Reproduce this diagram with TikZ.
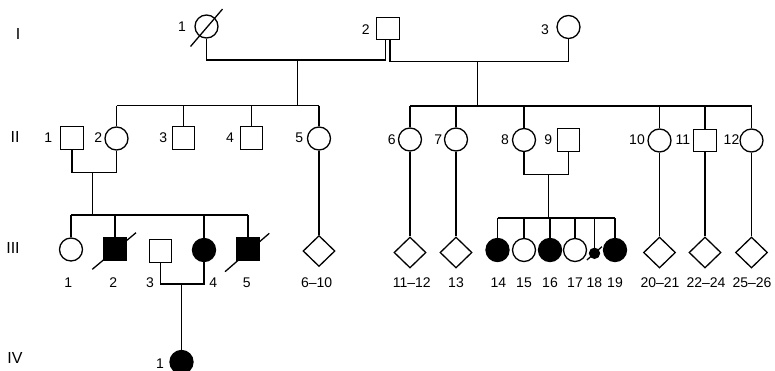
\documentclass[tikz,border=0pt]{standalone}
\usepackage{fontspec}
\setmainfont{Liberation Sans}
\usetikzlibrary{shapes.geometric,calc}
\begin{document}
\begin{tikzpicture}[x=1pt,y=-1pt,line width=1.3pt,
 fem/.style={circle,draw,minimum size=23pt,inner sep=0pt},
 mal/.style={rectangle,draw,minimum size=22.5pt,inner sep=0pt},
 unk/.style={diamond,draw,minimum width=32pt,minimum height=31pt,inner sep=0pt},
 aff/.style={fill=black},
 tiny/.style={circle,draw,fill=black,minimum size=10pt,inner sep=0pt},
 lab/.style={font=\fontsize{14}{14}\selectfont,inner sep=0pt},
 gen/.style={font=\fontsize{16}{16}\selectfont,inner sep=0pt}]
\useasboundingbox (0,0) rectangle (775,370);
% generation labels
\node[gen] (gI) at (18,34) {I};
\node[gen] (gII) at (15,137) {II};
\node[gen] (gIII) at (13,248) {III};
\node[gen] (gIV) at (15,358) {IV};
% generation I
\node[fem] (I1) at (206.5,26.5) {};
\node[mal] (I2) at (388,28.5) {};
\node[fem] (I3) at (568.5,27) {};
\node[lab] (lI1) at (182,27) {1};
\node[lab] (lI2) at (365.7,30) {2};
\node[lab] (lI3) at (545,30) {3};
\draw ($(I1)+(-16,20)$) -- ($(I1)+(16,-17.4)$);
\coordinate (a1) at (385.5,60);
\coordinate (a2) at (390,61.5);
\draw (I1.south) |- (a1) -- (a1 |- I2.south);
\draw (I3.south) |- (a2) -- (a2 |- I2.south);
\coordinate (d1) at (297.5,60);
\coordinate (s1) at (297.5,105.5);
\coordinate (d2) at (477.5,61.5);
\coordinate (s2) at (477.5,106);
\draw (d1) -- (s1);
\draw (d2) -- (s2);
% generation II
\node[mal] (II1) at (72,138) {};
\node[fem] (II2) at (116.5,138.5) {};
\node[mal] (II3) at (183.5,138) {};
\node[mal] (II4) at (251.5,138) {};
\node[fem] (II5) at (319,138.5) {};
\node[fem] (II6) at (410,139.5) {};
\node[fem] (II7) at (456,139.5) {};
\node[fem] (II8) at (524,140) {};
\node[mal] (II9) at (568.5,140) {};
\node[fem] (II10) at (659.5,140.5) {};
\node[mal] (II11) at (705,140.5) {};
\node[fem] (II12) at (751.5,140.5) {};
\node[lab] (lII1) at (48.3,138) {1};
\node[lab] (lII2) at (98.3,138) {2};
\node[lab] (lII3) at (163.3,138) {3};
\node[lab] (lII4) at (230,138) {4};
\node[lab] (lII5) at (299.3,138) {5};
\node[lab] (lII6) at (391.7,140) {6};
\node[lab] (lII7) at (438.3,140) {7};
\node[lab] (lII8) at (505,140) {8};
\node[lab] (lII9) at (548.3,140) {9};
\node[lab] (lII10) at (637,140) {10};
\node[lab] (lII11) at (683,140) {11};
\node[lab] (lII12) at (731.5,140) {12};
\draw (II2 |- s1) -- (II5 |- s1);
\foreach \n in {II2,II3,II4,II5} \draw (\n |- s1) -- (\n.north);
\draw (II6 |- s2) -- (II12 |- s2);
\foreach \n in {II6,II7,II8,II10,II11,II12} \draw (\n |- s2) -- (\n.north);
% generation III
\node[fem] (III1) at (71,249.5) {};
\node[mal,aff] (III2) at (115,249) {};
\node[mal] (III3) at (160.5,251) {};
\node[fem,aff] (III4) at (204,250) {};
\node[mal,aff] (III5) at (248,249) {};
\node[unk] (III6) at (319,251) {};
\node[unk] (D11) at (410,252.5) {};
\node[unk] (D13) at (456,252.5) {};
\node[fem,aff] (C14) at (497.5,250) {};
\node[fem] (C15) at (524,250) {};
\node[fem,aff] (C16) at (550,250) {};
\node[fem] (C17) at (575,250) {};
\node[tiny] (C18) at (594.5,253.3) {};
\node[fem,aff] (C19) at (615,250) {};
\node[unk] (D20) at (659.5,252.5) {};
\node[unk] (D22) at (705,252.5) {};
\node[unk] (D25) at (751.5,252.5) {};
\draw ($(III2)+(-22.7,20.3)$) -- ($(III2)+(21,-16.3)$);
\draw ($(III5)+(-23,22.7)$) -- ($(III5)+(21.3,-15.7)$);
\draw ($(C18)+(-7.6,6.7)$) -- ($(C18)+(7.4,-6.6)$);
\node[lab] (lIII1) at (68.3,282.5) {1};
\node[lab] (lIII2) at (113.3,282.5) {2};
\node[lab] (lIII3) at (150,282.5) {3};
\node[lab] (lIII4) at (213.3,282.5) {4};
\node[lab] (lIII5) at (246.7,282.5) {5};
\node[lab] (lIII6) at (316.7,282.5) {6--10};
\node[lab] (lD11) at (411.7,283) {11--12};
\node[lab] (lD13) at (456,283) {13};
\node[lab] (l14) at (498.3,283) {14};
\node[lab] (l15) at (524,283) {15};
\node[lab] (l16) at (550,283) {16};
\node[lab] (l17) at (575,283) {17};
\node[lab] (l18) at (594.3,283) {18};
\node[lab] (l19) at (615,283) {19};
\node[lab] (lD20) at (660,283) {20--21};
\node[lab] (lD22) at (706,283) {22--24};
\node[lab] (lD25) at (752,283) {25--26};
% II-1 x II-2
\coordinate (b1) at (92.5,172.5);
\coordinate (s3) at (92.5,215);
\draw (II1.south) |- (b1) -| (II2.south);
\draw (b1) -- (s3);
\draw (III1 |- s3) -- (III5 |- s3);
\foreach \n in {III1,III2,III4,III5} \draw (\n |- s3) -- (\n.north);
% II-8 x II-9
\coordinate (b3) at (548.5,174.5);
\coordinate (s4) at (548.5,218);
\draw (II8.south) |- (b3) -| (II9.south);
\draw (b3) -- (s4);
\draw (C14 |- s4) -- (C19 |- s4);
\foreach \n in {C14,C15,C16,C17,C18,C19} \draw (\n |- s4) -- (\n.north);
% single lines
\draw (II5.south) -- (III6.north);
\draw (II6.south) -- (D11.north);
\draw (II7.south) -- (D13.north);
\draw (II10.south) -- (D20.north);
\draw (II11.south) -- (D22.north);
\draw (II12.south) -- (D25.north);
% generation IV
\node[fem,aff] (IV1) at (181.5,362) {};
\node[lab] (lIV1) at (160,363.3) {1};
\coordinate (b2) at (181.5,284);
\draw (III3.south) |- (b2) -| (III4.south);
\draw (b2) -- (IV1.north);
\end{tikzpicture}
\end{document}
